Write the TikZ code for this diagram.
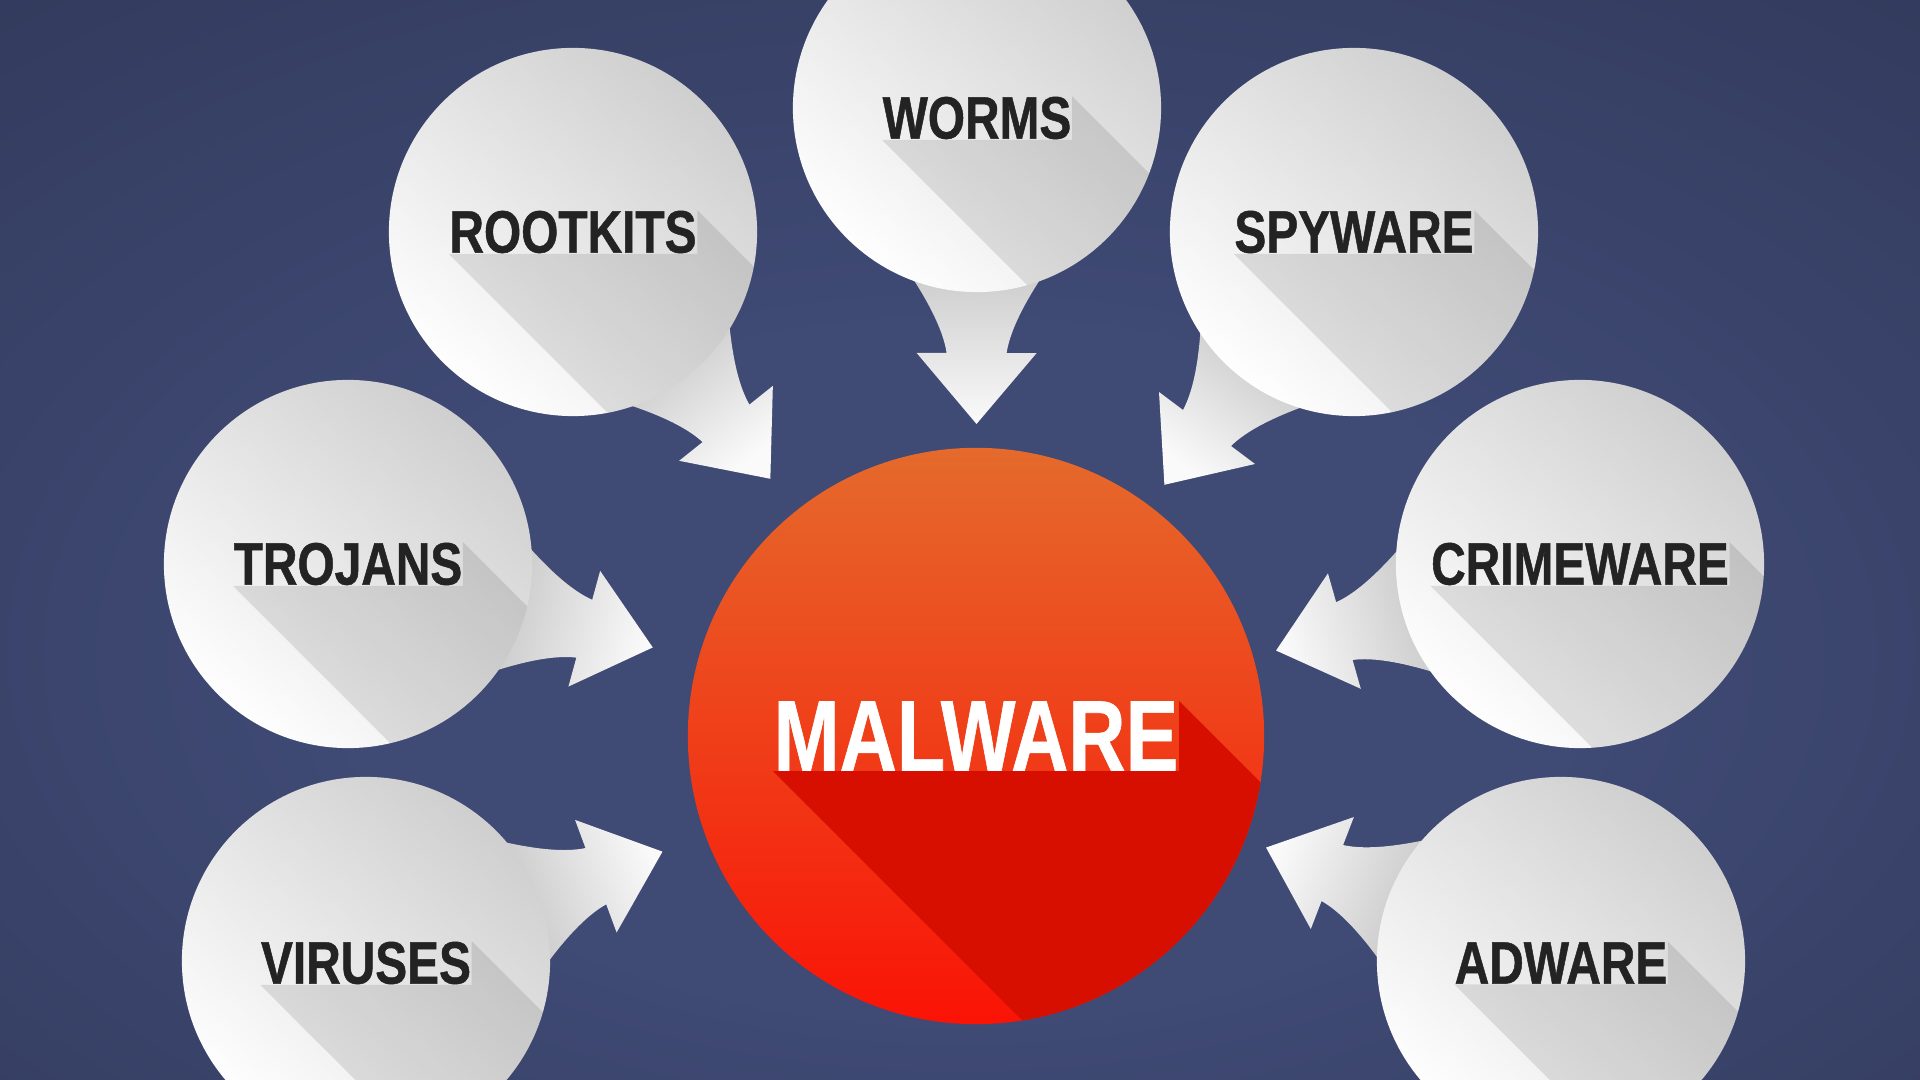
\documentclass[tikz,border=0pt]{standalone}
\usepackage{fontspec}
\newfontfamily\labelfont[FakeStretch=0.8, FakeBold=0.8]{Liberation Sans}
\newfontfamily\hubfont[FakeStretch=0.79, FakeBold=0.6]{Liberation Sans}
\usetikzlibrary{calc}

\definecolor{bgin}{HTML}{3F4A75}
\definecolor{bgmid}{HTML}{313959}
\definecolor{bgout}{HTML}{23283B}
\definecolor{bubtop}{HTML}{CFCFCF}
\definecolor{bubbot}{HTML}{FEFEFE}
\definecolor{ink}{HTML}{232323}
\definecolor{tailnear}{HTML}{C8C8C8}
\definecolor{tailfar}{HTML}{FAFAFA}
\definecolor{hubtop}{HTML}{E56A2C}
\definecolor{hubbot}{HTML}{FA1306}
\definecolor{hubshadow}{HTML}{D70F00}

\pgfdeclarelayer{back}
\pgfdeclarelayer{tails}
\pgfdeclarelayer{shadows}
\pgfdeclarelayer{front}
\pgfsetlayers{back,tails,main,shadows,front}

\pgfdeclareradialshading{backglow}{\pgfpoint{0bp}{-8bp}}{color(0bp)=(bgin); color(16bp)=(bgin); color(42bp)=(bgmid); color(68bp)=(bgout)}

\tikzset{
  bubble/.style={circle, minimum size=3.68cm, inner sep=0pt, top color=bubtop, bottom color=bubbot, shading angle=-40},
  bubbletext/.style={inner sep=0pt, text=ink, font={\labelfont\bfseries\fontsize{17pt}{17pt}\selectfont}},
  hub/.style={circle, minimum size=5.76cm, inner sep=0pt, top color=hubtop, bottom color=hubbot},
  hubtext/.style={inner sep=0pt, text=white, font={\hubfont\bfseries\fontsize{28.5pt}{28.5pt}\selectfont}},
  longshade/.style={fill=black, fill opacity=0.1}
}

% speech-bubble tail from #1 pointing at #2
\newcommand{\malwaretail}[2]{%
  \pgfmathanglebetweenpoints{\pgfpointanchor{#1}{center}}{\pgfpointanchor{#2}{center}}%
  \pgfmathsetmacro{\tailturn}{\pgfmathresult}%
  \pgfmathsetmacro{\tailshade}{\tailturn+90}%
  \begin{scope}[shift={(#1.center)}, rotate=\tailturn]
    \shade[top color=tailnear, bottom color=tailfar, shading angle=\tailshade]
      (172,63) .. controls (200,45) and (225,33) .. (245,30) -- (245,60) -- (316,0)
      -- (245,-60) -- (245,-30) .. controls (225,-33) and (200,-45) .. (172,-63)
      -- (150,0) -- cycle;
  \end{scope}}

% long shadow of label #2 inside circle #1
\newcommand{\longshadow}[4]{%
  \begin{scope}
    \clip (#1.center) circle [radius=#3];
    \path[#4] (#2.south west) -- (#2.south east) -- (#2.north east)
      -- ($(#2.north east)+(300,300)$) -- ($(#2.south east)+(300,300)$)
      -- ($(#2.south west)+(300,300)$) -- cycle;
  \end{scope}}

\begin{document}
\begin{tikzpicture}[x=0.01cm, y=-0.01cm]
  \clip (0,0) rectangle (1920,1080);
  \begin{pgfonlayer}{back}
    \shade[shading=backglow] (0,0) rectangle (1920,1080);
  \end{pgfonlayer}

  \node[hub] (malware) at (976,736) {};
  \begin{pgfonlayer}{front}
    \node[hubtext] (lmalware) at (malware) {MALWARE};
  \end{pgfonlayer}

  \foreach \nm/\px/\py/\dy/\txt in {worms/977/108/10/WORMS, rootkits/573/232/0/ROOTKITS,
      spyware/1354/232/0/SPYWARE, trojans/348/564/0/TROJANS, crimeware/1580/564/0/CRIMEWARE,
      viruses/366/961/2/VIRUSES, adware/1561/961/2/ADWARE} {
    \node[bubble] (\nm) at (\px,\py) {};
    \begin{pgfonlayer}{front}
      \node[bubbletext] (l\nm) at ($(\nm)+(0,\dy)$) {\txt};
    \end{pgfonlayer}
  }

  \begin{pgfonlayer}{tails}
    \foreach \nm in {worms, rootkits, spyware, trojans, crimeware, viruses, adware}
      \malwaretail{\nm}{malware};
  \end{pgfonlayer}

  \begin{pgfonlayer}{shadows}
    \foreach \nm in {worms, rootkits, spyware, trojans, crimeware, viruses, adware}
      \longshadow{\nm}{l\nm}{1.84cm}{longshade};
    \longshadow{malware}{lmalware}{2.88cm}{fill=hubshadow};
  \end{pgfonlayer}
\end{tikzpicture}
\end{document}
